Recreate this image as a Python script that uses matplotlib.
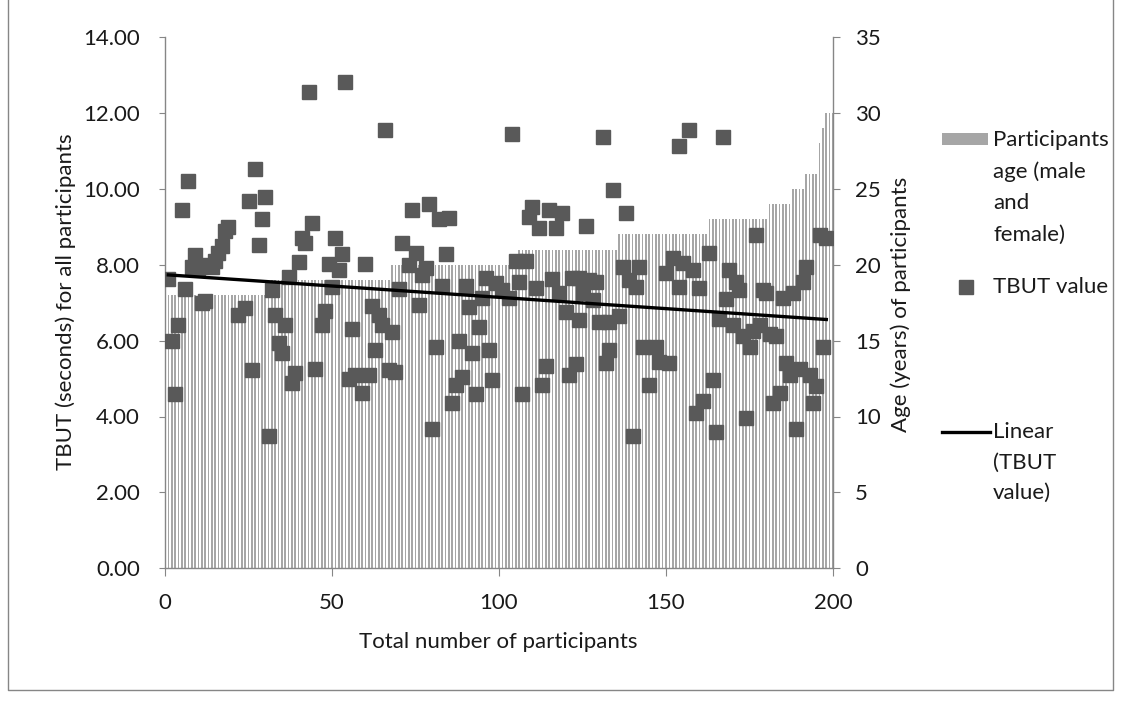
import numpy as np
import matplotlib
matplotlib.use('Agg')
import matplotlib.pyplot as plt
from matplotlib.patches import Rectangle
from matplotlib.lines import Line2D

plt.rcParams['font.family'] = ['Lato', 'DejaVu Sans']

# participant ages, sorted ascending (age value, how many participants)
age_values = [18, 19, 20, 21, 22, 23, 24, 25, 26, 28, 29, 30]
age_counts = [30, 37, 38, 30, 27, 18, 7, 4, 4, 1, 1, 3]

# TBUT readings (participant number, seconds)
tbut_x = [1, 2, 3, 4, 5, 6, 7, 8, 9, 10, 11, 12, 13, 14, 15, 16, 17, 18, 19,
          22, 24, 25, 26, 27, 28, 29, 30, 31, 32, 33, 34, 35, 36, 37, 38, 39,
          40, 41, 42, 43, 44, 45, 47, 48, 49, 50, 51, 52, 53, 54, 55, 56, 57,
          59, 60, 61, 62, 63, 64, 65, 66, 67, 68, 69, 70, 71, 73, 74, 75, 76,
          77, 78, 79, 80, 81, 82, 83, 84, 85, 86, 87, 88, 89, 90, 91, 92, 93,
          94, 95, 96, 97, 98, 99, 101, 103, 104, 105, 106, 107, 108, 109, 110,
          111, 112, 113, 114, 115, 116, 117, 118, 119, 120, 121, 122, 123, 124,
          124, 125, 126, 127, 128, 129, 130, 131, 132, 133, 133, 134, 136, 137,
          138, 139, 140, 141, 142, 143, 145, 147, 148, 150, 151, 152, 154, 154,
          155, 157, 158, 159, 160, 161, 163, 164, 165, 166, 167, 168, 169, 170,
          171, 172, 173, 174, 175, 176, 177, 178, 179, 180, 181, 182, 183, 184,
          185, 186, 187, 188, 189, 190, 191, 192, 193, 194, 195, 196, 197, 198]
tbut_y = [7.62, 5.99, 4.58, 6.41, 9.44, 7.35, 10.21, 7.95, 8.26, 7.90, 7.00,
          7.05, 8.00, 7.95, 8.10, 8.30, 8.50, 8.90, 9.00,
          6.67, 6.85, 9.69, 5.22, 10.52, 8.52, 9.20, 9.79, 3.49, 7.33, 6.67,
          5.93, 5.67, 6.41, 7.67, 4.87, 5.15,
          8.08, 8.70, 8.56, 12.54, 9.09, 5.24, 6.41, 6.79, 8.02, 7.42, 8.70,
          7.86, 8.28, 12.81, 4.98, 6.31, 5.09,
          4.61, 8.01, 5.09, 6.91, 5.75, 6.67, 6.41, 11.55, 5.22, 6.23, 5.18,
          7.35, 8.58, 7.99, 9.44, 8.30, 6.94,
          7.73, 7.90, 9.59, 3.66, 5.83, 9.20, 7.44, 8.27, 9.22, 4.35, 4.83,
          6.00, 5.05, 7.44, 6.89, 5.67, 4.59,
          6.35, 7.11, 7.64, 5.75, 4.96, 7.51, 7.33, 7.11, 11.44, 8.11, 7.55,
          4.59, 8.11, 9.26, 9.53,
          7.38, 8.96, 4.83, 5.33, 9.44, 7.62, 8.96, 7.25, 9.37, 6.76, 5.10,
          7.65, 5.38, 7.64,
          6.54, 7.25, 9.02, 7.60, 7.07, 7.55, 6.50, 11.37, 5.40, 5.75, 6.50,
          9.97, 6.65, 7.93,
          9.37, 7.60, 3.49, 7.40, 7.93, 5.82, 4.83, 5.82, 5.44, 7.77, 5.40,
          8.17, 11.13, 7.42,
          8.04, 11.55, 7.86, 4.08, 7.38, 4.42, 8.32, 4.96, 3.60, 6.56, 11.37,
          7.09, 7.86, 6.41,
          7.55, 7.33, 6.12, 3.95, 5.82, 6.26, 8.78, 6.41, 7.33, 7.26, 6.17,
          4.35, 6.12, 4.61,
          7.11, 5.42, 5.09, 7.25, 3.66, 5.24, 7.55, 7.95, 5.09, 4.35, 4.80,
          8.78, 5.82, 8.70]

ages = np.repeat(age_values, age_counts)
participants = np.arange(1, len(ages) + 1)

W, H = 1122, 704
fig = plt.figure(figsize=(W / 100, H / 100), dpi=100)
ax = fig.add_axes([165 / W, 1 - 568.3 / H, (833 - 165) / W, (568.3 - 37) / H])
ax2 = ax.twinx()

grey = '#868686'
txt = '#1a1a1a'
fs = 16

ax2.bar(participants, ages, width=0.5, color='#A6A6A6', linewidth=0)
ax2.set_ylim(0, 35)
ax2.set_yticks(range(0, 36, 5))

ax.set_zorder(ax2.get_zorder() + 1)
ax.patch.set_visible(False)

ax.plot(tbut_x, tbut_y, 's', ms=10.5, color='#595959', mec='#595959', zorder=3)
coef = np.polyfit(tbut_x, tbut_y, 1)
xs = np.array([min(tbut_x), max(tbut_x)])
ax.plot(xs, np.polyval(coef, xs), color='black', lw=2.4, zorder=4)

ax.set_xlim(0, 200)
ax.set_xticks(range(0, 201, 50))
ax.set_ylim(0, 14)
ax.set_yticks(np.arange(0, 14.01, 2))
ax.set_yticklabels([f'{v:.2f}' for v in np.arange(0, 14.01, 2)])

for a in (ax, ax2):
    a.spines['top'].set_visible(False)
    for s in a.spines.values():
        s.set_color(grey)
        s.set_linewidth(1.0)
ax.spines['right'].set_visible(False)
ax2.spines['left'].set_visible(False)
ax2.spines['bottom'].set_visible(False)

ax.tick_params(axis='y', direction='out', length=4, color=grey, labelsize=fs,
               labelcolor=txt, pad=14)
ax.tick_params(axis='x', direction='out', length=6, color=grey, labelsize=fs,
               labelcolor=txt, pad=12)
ax2.tick_params(axis='y', direction='out', length=5, color=grey, labelsize=fs,
                labelcolor=txt, pad=11)

fig.text(498 / W, 1 - 642 / H, 'Total number of participants', ha='center',
         va='center', fontsize=fs, color=txt)
fig.text(66 / W, 1 - 302 / H, 'TBUT (seconds) for all participants', ha='center',
         va='center', rotation=90, fontsize=fs, color=txt)
fig.text(901 / W, 1 - 304 / H, 'Age (years) of participants', ha='center',
         va='center', rotation=90, fontsize=fs, color=txt)

# legend drawn by hand to follow the original layout
fig.add_artist(Rectangle((942 / W, 1 - 145 / H), 46 / W, 12 / H,
                         transform=fig.transFigure, color='#A6A6A6', lw=0))
for k, line in enumerate(['Participants', 'age (male', 'and', 'female)']):
    fig.text(993 / W, 1 - (140 + 31.5 * k) / H, line, ha='left', va='center',
             fontsize=fs, color=txt)
fig.add_artist(Line2D([966 / W], [1 - 287 / H], marker='s', ms=10.5,
                      color='#595959', ls='none', transform=fig.transFigure))
fig.text(993 / W, 1 - 287 / H, 'TBUT value', ha='left', va='center',
         fontsize=fs, color=txt)
fig.add_artist(Line2D([942 / W, 990 / W], [1 - 432 / H, 1 - 432 / H],
                      color='black', lw=2.4, transform=fig.transFigure))
for k, line in enumerate(['Linear', '(TBUT', 'value)']):
    fig.text(993 / W, 1 - (432 + 30.5 * k) / H, line, ha='left', va='center',
             fontsize=fs, color=txt)

# chart area border
fig.add_artist(Line2D([8 / W, 8 / W, 1113 / W, 1113 / W],
                      [1.0, 1 - 690 / H, 1 - 690 / H, 1.0],
                      color=grey, lw=1.0, transform=fig.transFigure))

fig.savefig('out.png', dpi=100)
